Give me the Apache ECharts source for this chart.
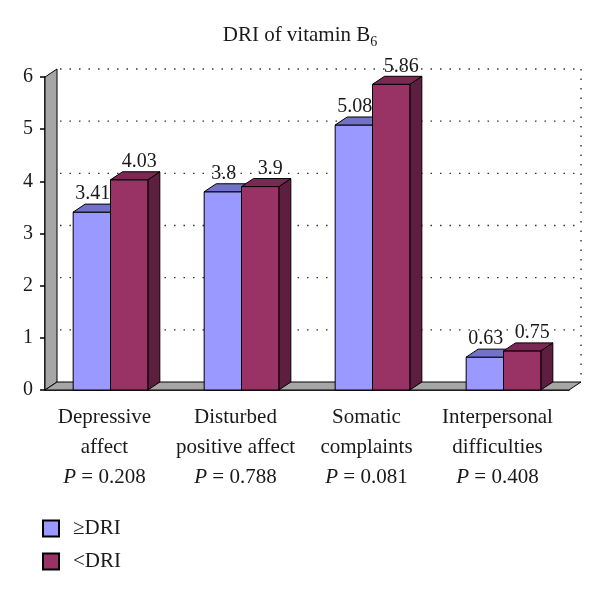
<!DOCTYPE html>
<html>
<head>
<meta charset="utf-8">
<script src="https://cdn.jsdelivr.net/npm/echarts@6/dist/echarts.min.js"></script>
<style>
  html, body { margin: 0; padding: 0; background: #fff; }
  #chart { width: 600px; height: 590px; }
</style>
</head>
<body>
<div id="chart"></div>
<script>
const categories = ['Depressive\naffect', 'Disturbed\npositive affect', 'Somatic\ncomplaints', 'Interpersonal\ndifficulties']
const pValues = ['0.208', '0.788', '0.081', '0.408']
const aboveDRI = [3.41, 3.8, 5.08, 0.63]
const belowDRI = [4.03, 3.9, 5.86, 0.75]
const yTicks = [0, 1, 2, 3, 4, 5, 6]
const seriesNames = ['≥DRI', '<DRI']

const FONT = '"Liberation Serif", "DejaVu Serif", serif'
const DX = 12, DY = -8   // fake 3d depth
const TXT = '#1a1a1a'

const chart = echarts.init(document.getElementById('chart'), null, { renderer: 'canvas' })

// back wall, floor and dotted grid, offset by the depth
const renderFrame = (params, api) => {
  const cs = params.coordSys
  const xL = cs.x, xR = cs.x + cs.width
  const y0 = api.coord([0, yTicks[0]])[1]
  const yTop = api.coord([0, yTicks[yTicks.length - 1]])[1]
  const gray = { fill: '#a6a6a6', stroke: '#000', lineWidth: 1 }
  const dots = { stroke: '#333', lineWidth: 1.4, lineDash: [1.5, 8] }
  const kids = [
    { type: 'polygon', shape: { points: [[xL, y0], [xL, yTop], [xL + DX, yTop + DY], [xL + DX, y0 + DY]] }, style: gray },
    { type: 'polygon', shape: { points: [[xL, y0], [xR, y0], [xR + DX, y0 + DY], [xL + DX, y0 + DY]] }, style: gray },
    { type: 'line', shape: { x1: xR + DX, y1: yTop + DY, x2: xR + DX, y2: y0 + DY }, style: dots },
  ]
  yTicks.slice(1).forEach(t => {
    const y = api.coord([0, t])[1] + DY
    kids.push({ type: 'line', shape: { x1: xL + DX + 3, y1: y, x2: xR + DX, y2: y }, style: dots })
  })
  return { type: 'group', children: kids }
}

// labelShift: how far right of the front face centre the value label sits
const barRenderer = (side, face, top, flank, labelShift) => (params, api) => {
  const i = api.value(0), v = api.value(1)
  const base = api.coord([i, 0])
  const tip = api.coord([i, v])
  const bw = api.size([1, 0])[0] * 0.285
  const x0 = side === 0 ? base[0] - bw : base[0]
  const x1 = x0 + bw
  const y0 = base[1], y1 = tip[1]
  const edge = { stroke: '#000', lineWidth: 1 }
  return {
    type: 'group',
    children: [
      { type: 'polygon', shape: { points: [[x1, y0], [x1, y1], [x1 + DX, y1 + DY], [x1 + DX, y0 + DY]] }, style: { fill: flank, ...edge } },
      { type: 'rect', shape: { x: x0, y: y1, width: bw, height: y0 - y1 }, style: { fill: face, ...edge } },
      { type: 'polygon', shape: { points: [[x0, y1], [x1, y1], [x1 + DX, y1 + DY], [x0 + DX, y1 + DY]] }, style: { fill: top, ...edge } },
      {
        type: 'text', z2: 100, x: (x0 + x1) / 2 + labelShift, y: y1 + DY,
        style: { text: String(v), fill: TXT, font: '20px ' + FONT, align: 'center', verticalAlign: 'bottom' }
      },
    ],
  }
}

chart.setOption({
  animation: false,
  title: {
    text: '{t|DRI of vitamin B}{s|6}',
    left: 'center', top: 16,
    textStyle: {
      rich: {
        t: { fontFamily: FONT, fontSize: 21, fontWeight: 'normal', color: TXT },
        s: { fontFamily: FONT, fontSize: 14, fontWeight: 'normal', color: TXT, padding: [14, 0, 0, 0] },
      },
    },
  },
  legend: {
    orient: 'vertical', left: 37, top: 513, itemGap: 12,
    itemWidth: 16, itemHeight: 16, icon: 'rect',
    data: seriesNames,
    textStyle: { fontFamily: FONT, fontSize: 21, color: TXT, padding: [0, 0, 0, 9] },
  },
  grid: { left: 45, right: 31, top: 77, bottom: 200 },
  xAxis: {
    type: 'category',
    data: categories,
    axisLine: { lineStyle: { color: '#000', width: 1.5 } },
    axisTick: { length: 6, lineStyle: { color: '#000', width: 1.5 } },
    axisLabel: {
      margin: 12, interval: 0, padding: [0, 12, 0, 0],
      formatter: (val, idx) => val.split('\n').map(l => '{a|' + l + '}').join('\n') + '\n{i|P}{a| = ' + pValues[idx] + '}',
      rich: {
        a: { fontFamily: FONT, fontSize: 21, color: TXT, lineHeight: 30 },
        i: { fontFamily: FONT, fontSize: 21, color: TXT, lineHeight: 30, fontStyle: 'italic' },
      },
    },
  },
  yAxis: {
    type: 'value', min: 0, max: 6, interval: 1,
    axisLine: { show: true, lineStyle: { color: '#000', width: 1.5 } },
    axisTick: { show: true, length: 5, lineStyle: { color: '#000', width: 1.5 } },
    axisLabel: { margin: 12, fontFamily: FONT, fontSize: 20, color: TXT },
    splitLine: { show: false },
  },
  series: [
    {
      type: 'custom', name: 'frame', z: 1, silent: true,
      renderItem: renderFrame, data: [[0, 0]], encode: { x: 0, y: 1 },
    },
    {
      type: 'custom', name: seriesNames[0], z: 2,
      itemStyle: { color: '#9999ff', borderColor: '#000', borderWidth: 1 },
      renderItem: barRenderer(0, '#9999ff', '#7272c8', '#5c5ca8', 1),
      data: aboveDRI.map((v, i) => [i, v]), encode: { x: 0, y: 1 },
    },
    {
      type: 'custom', name: seriesNames[1], z: 2,
      itemStyle: { color: '#993366', borderColor: '#000', borderWidth: 1 },
      renderItem: barRenderer(1, '#993366', '#7b2852', '#5e1e3f', 10),
      data: belowDRI.map((v, i) => [i, v]), encode: { x: 0, y: 1 },
    },
  ],
})
</script>
</body>
</html>
